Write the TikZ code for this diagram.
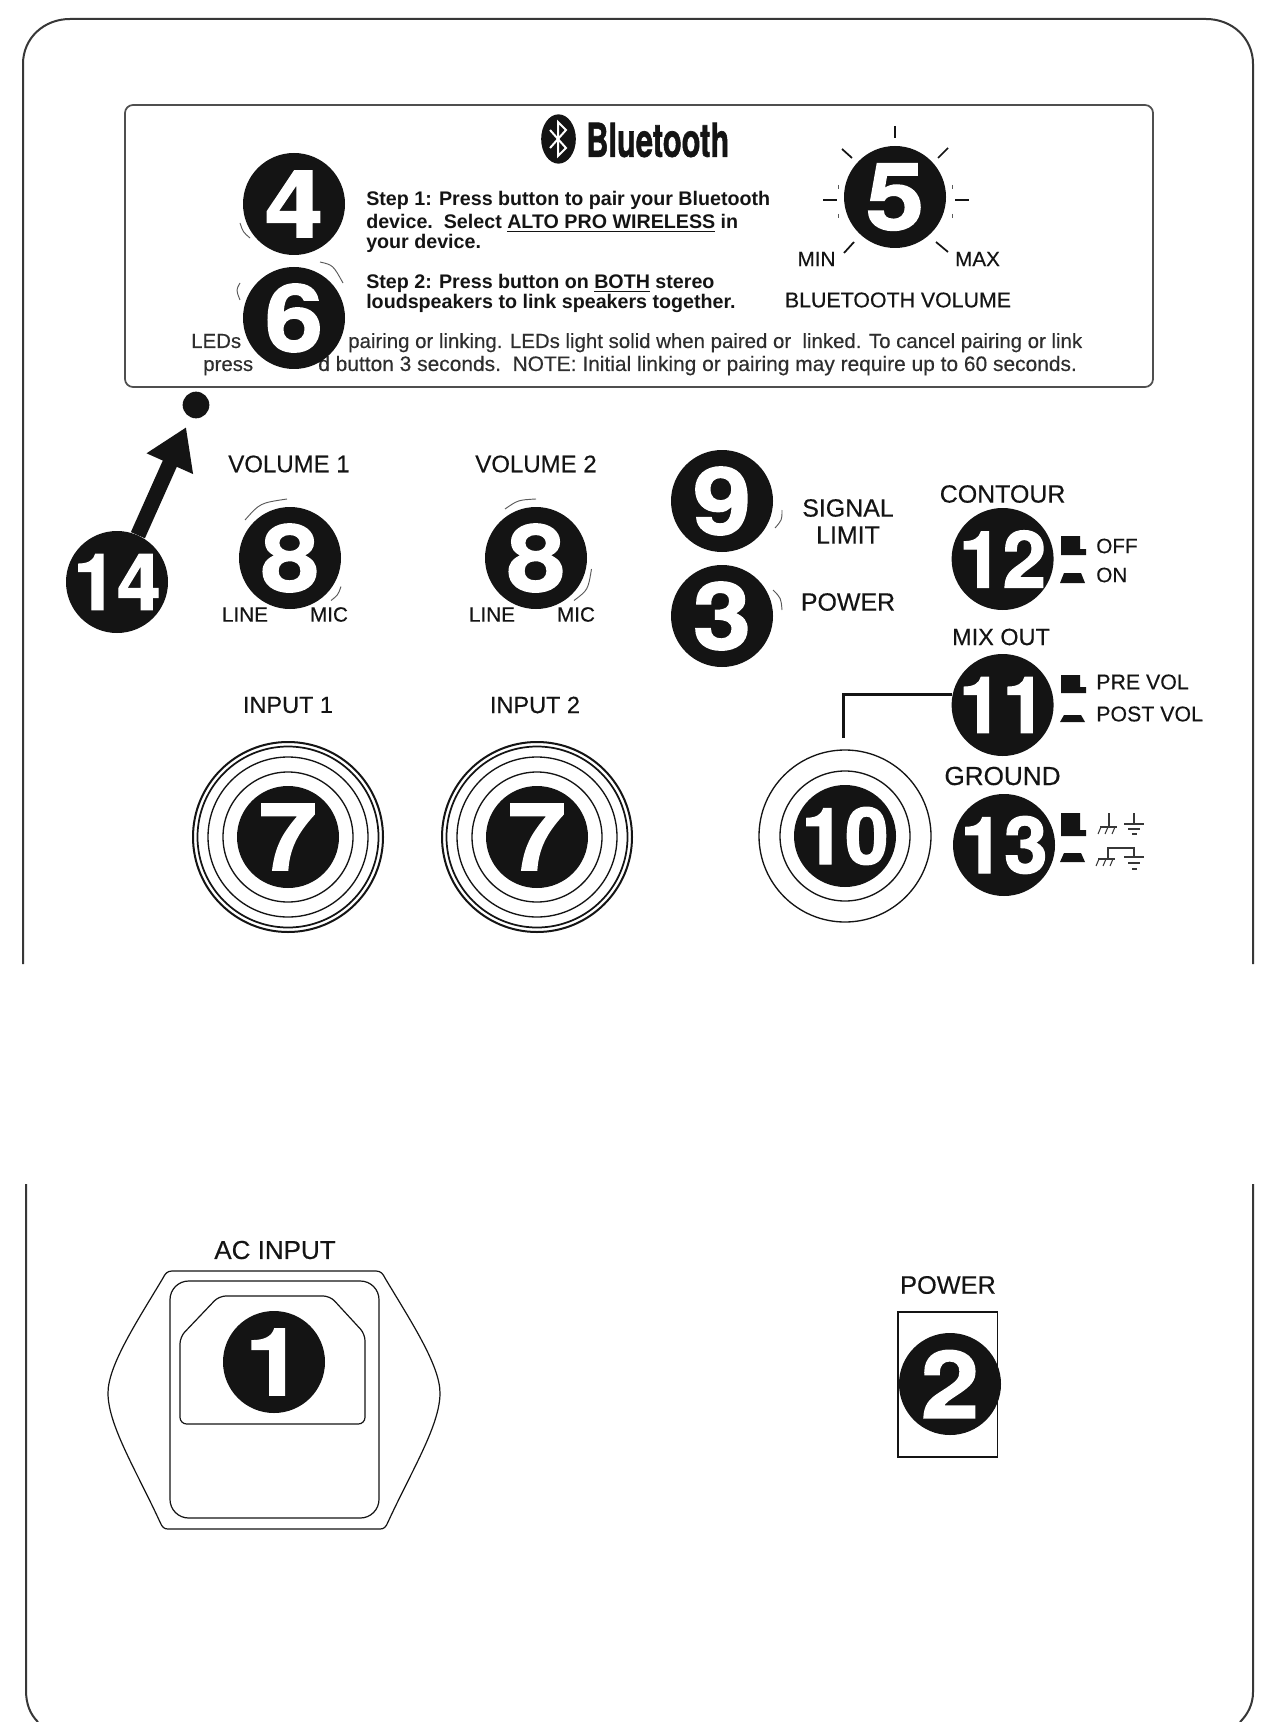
\documentclass[tikz,border=0pt]{standalone}
\usepackage{fontspec}
\usepackage{graphicx}
\setmainfont[UprightFeatures={FakeBold=0.3}]{Liberation Sans}
\newfontfamily\numfont[BoldFeatures={FakeBold=1.5}]{TeX Gyre Heros}
\usetikzlibrary{arrows.meta,shapes.geometric}
\definecolor{ink}{HTML}{141414}
\definecolor{bodyink}{HTML}{2E2E2E}
\newcommand{\wdg}[1]{\makebox[0pt]{\scalebox{1.12}[1]{#1}}}
\tikzset{
  numdot/.style={circle,fill=ink,minimum size=76.5pt,inner sep=0pt,text=white,
    font=\numfont\bfseries\fontsize{70}{70}\selectfont},
  numdottwo/.style={numdot,font=\numfont\bfseries\fontsize{59}{59}\selectfont},
  lab/.style={inner sep=0pt,text=ink,font=\fontsize{#1}{#1}\selectfont},
  bodyline/.style={inner sep=0pt,anchor=base west,text=ink,font=\bfseries\fontsize{14.75}{14.75}\selectfont},
  noteline/.style={inner sep=0pt,anchor=base west,text=bodyink,font=\fontsize{#1}{#1}\selectfont},
  frameline/.style={draw=ink!85,line width=1.5pt},
  thin outline/.style={draw=ink,line width=.9pt},
  ringline/.style={draw=ink,line width=1pt},
  faintarc/.style={draw=ink!70,line width=.7pt},
  knobtick/.style={draw=ink,line width=1.3pt},
  lead/.style={draw=ink,line width=2pt},
  swicon/.style={fill=ink,draw=none},
  gnd/.style={draw=ink!85,line width=.8pt}
}
\newcommand{\uprightsw}[2]{\fill[swicon] (1061,#1) -- (1080,#1) -- (1080,#2-6) -- (1086,#2-6) -- (1086,#2) -- (1061,#2) -- cycle;}
\newcommand{\downsw}[2]{\fill[swicon] (1064,#1) -- (1081,#1) -- (1085,#2) -- (1060,#2) -- cycle;}
\begin{document}
\begin{tikzpicture}[x=.75pt,y=-.75pt]
\useasboundingbox (0,0) rectangle (1266,1722);
\fill[white] (0,0) rectangle (1266,1722);
% outer enclosure
\draw[frameline] (23,964) -- (23,64) .. controls (23,38) and (44,19) .. (70,19) -- (1206,19) .. controls (1232,19) and (1253,38) .. (1253,64) -- (1253,964);
\draw[frameline] (26,1184) -- (26,1690) .. controls (26,1704) and (30,1714) .. (38,1722);
\draw[frameline] (1253,1184) -- (1253,1692) .. controls (1253,1704) and (1248,1714) .. (1240,1722);
% bluetooth panel
\draw[draw=ink!75,line width=1.3pt,rounded corners=6pt] (125,105) rectangle (1153,387);
% bluetooth logo
\node[ellipse,fill=ink,minimum width=26pt,minimum height=37pt,inner sep=0pt] (btlogo) at (558.5,139) {};
\draw[white,line width=1.5pt] (550,130) -- (566,148) -- (558,156) -- (558,122) -- (566,130) -- (550,148);
\node[inner sep=0pt,anchor=west,text=ink] (bttext) at (586,140) {\scalebox{.66}[1]{\numfont\bfseries\fontsize{35}{35}\selectfont Bluetooth}};
% panel text
\node[bodyline] (s1a) at (366,206) {Step 1: Press button to pair your Bluetooth};
\node[bodyline] (s1b) at (366,229) {device.\ \ Select \underline{ALTO PRO WIRELESS} in};
\node[bodyline] (s1c) at (366,249) {your device.};
\node[bodyline] (s2a) at (366,289) {Step 2: Press button on \underline{BOTH} stereo};
\node[bodyline] (s2b) at (366,309) {loudspeakers to link speakers together.};
\node[noteline=15.3] (n1a) at (191,348) {LEDs};
\node[noteline=15.3] (n1b) at (348,348) {pairing or linking. LEDs light solid when paired or\ \ linked. To cancel pairing or link};
\node[noteline=15.3] (n2a) at (203,371) {press};
\node[noteline=15.7] (n2b) at (318,371) {d button 3 seconds.\ \ NOTE: Initial linking or pairing may require up to 60 seconds.};
% bluetooth volume knob ticks
\draw[knobtick] (895,126) -- (895,138);
\draw[knobtick] (842,149) -- (852,158);
\draw[knobtick] (948,148) -- (938,158);
\draw[knobtick] (823,200) -- (837,200);
\draw[knobtick] (955,200) -- (969,200);
\draw[knobtick] (844,253) -- (854,242);
\draw[knobtick] (936,242) -- (948,252);
\draw[faintarc] (838,185) -- (838,189);
\draw[faintarc] (838,214) -- (838,218);
\draw[faintarc] (952,185) -- (952,189);
\draw[faintarc] (952,214) -- (952,218);
\node[lab=15.5] (lmin) at (816.5,259) {MIN};
\node[lab=15.5] (lmax) at (977.5,259) {MAX};
\node[lab=16] (lbtv) at (898,300) {BLUETOOTH VOLUME};
% labels
\node[lab=18] (lv1) at (289,464) {VOLUME 1};
\node[lab=18] (lv2) at (536,464) {VOLUME 2};
\node[lab=15.5] (ll1) at (245,614.5) {LINE};
\node[lab=15.5] (lm1) at (329,614.5) {MIC};
\node[lab=15.5] (ll2) at (492,614.5) {LINE};
\node[lab=15.5] (lm2) at (576,614.5) {MIC};
\node[lab=17.6] (li1) at (288,705) {INPUT 1};
\node[lab=17.6] (li2) at (535,705) {INPUT 2};
\node[lab=18.7] (lsig) at (848,508) {SIGNAL};
\node[lab=18.7] (llim) at (848,535) {LIMIT};
\node[lab=18.7] (lpow) at (848,602) {POWER};
\node[lab=18.7] (lcon) at (1002.6,494) {CONTOUR};
\node[lab=15.5,anchor=west] (loff) at (1096,546) {OFF};
\node[lab=15.5,anchor=west] (lon) at (1096,575) {ON};
\node[lab=17.6] (lmix) at (1001,637) {MIX OUT};
\node[lab=16,anchor=west] (lpre) at (1096,682) {PRE VOL};
\node[lab=16,anchor=west] (lpost) at (1096,714) {POST VOL};
\node[lab=19.6] (lgnd) at (1002.5,776) {GROUND};
\node[lab=19.5] (lac) at (275,1250) {AC INPUT};
\node[lab=19] (lpw2) at (948,1285) {POWER};
% switch icons
\uprightsw{536}{555}\downsw{573}{583}
\uprightsw{675}{693}\downsw{715}{722}
\uprightsw{813}{836}\downsw{853}{862}
% ground symbols
\draw[gnd] (1109,813) -- (1109,827);
\draw[gnd] (1100,827) -- (1117,827);
\draw[gnd] (1101,827) -- (1098,834) (1108,827) -- (1105,834) (1115,827) -- (1112,834);
\draw[gnd] (1134,813) -- (1134,824) (1124,824) -- (1144,824) (1128,829) -- (1140,829) (1132,834) -- (1137,834);
\draw[gnd] (1098,859) -- (1115,859);
\draw[gnd] (1099,859) -- (1096,866) (1106,859) -- (1103,866) (1113,859) -- (1110,866);
\draw[gnd] (1108,859) -- (1108,848) -- (1134,848) -- (1134,857);
\draw[gnd,line width=1.4pt] (1124,857) -- (1144,857) (1128,863) -- (1140,863) (1132,869) -- (1137,869);
% number dots
\node[numdot] (n4) at (294,204) {\wdg{4}};
\node[numdot] (n6) at (294,318) {\wdg{6}};
\node[numdot] (n5) at (895,197) {\wdg{5}};
\node[numdot] (n8a) at (290,558) {\wdg{8}};
\node[numdot] (n8b) at (536,558) {\wdg{8}};
\node[numdot] (n9) at (722,501) {\wdg{9}};
\node[numdot] (n3) at (722,616) {\wdg{3}};
\node[numdottwo] (n14) at (117,582) {\makebox[0pt]{14}};
\node[numdottwo] (n12) at (1002.6,559) {\makebox[0pt]{12}};
\node[numdottwo] (n11) at (1002.6,705) {\makebox[0pt]{11}};
\node[numdottwo] (n13) at (1004,845) {\makebox[0pt]{13}};
\node[numdottwo] (n10) at (845,836) {\makebox[0pt]{10}};
\node[numdot] (n7a) at (288,837) {\wdg{7}};
\node[numdot] (n7b) at (537,837) {\wdg{7}};
% indicator arcs
\draw[faintarc] (240,223) .. controls (243,232) .. (250,238);
\draw[faintarc] (240,283) .. controls (236,290) .. (240,300);
\draw[faintarc] (320,262) .. controls (333,265) .. (343,283);
\draw[faintarc] (245,520) .. controls (260,503) .. (287,499);
\draw[faintarc] (331,600.5) .. controls (338,595) .. (341,586.5);
\draw[faintarc] (505,509) .. controls (518,500) .. (536,499);
\draw[faintarc] (591.5,569) .. controls (588,590) .. (574,600.5);
\draw[faintarc] (782,510) .. controls (782,520) .. (775,528);
\draw[faintarc] (773,590) .. controls (781,598) .. (782,610);
% jacks
\foreach \c in {n7a,n7b}{
  \draw[ringline] (\c.center) circle[radius=65];
  \draw[ringline] (\c.center) circle[radius=80];
  \draw[ringline,line width=1.3pt] (\c.center) circle[radius=90.5];
  \draw[ringline,line width=1.5pt] (\c.center) circle[radius=95];
}
\draw[ringline] (n10.center) circle[radius=65];
\draw[ringline] (n10.center) circle[radius=86];
% led + arrow
\node[circle,fill=ink,minimum size=20pt,inner sep=0pt] (led) at (196,405) {};
\draw[draw=ink,line width=11.5pt,-{Triangle[length=30pt,width=36pt]},shorten >=8pt] (n14) -- (led);
% connector 10-11
\coordinate (j10) at (843.5,738);
\draw[lead] (n11.168) -| (j10);
% AC inlet
\draw[thin outline] (172,1271) -- (376,1271) .. controls (381,1271) and (383,1274) .. (385,1278) .. controls (410,1320) and (440,1365) .. (440,1393) .. controls (440,1425) and (412,1470) .. (388,1522) .. controls (386,1527) and (384,1529) .. (380,1529) -- (168,1529) .. controls (164,1529) and (162,1527) .. (160,1522) .. controls (136,1470) and (108,1425) .. (108,1393) .. controls (108,1365) and (138,1320) .. (163,1278) .. controls (165,1274) and (167,1271) .. (172,1271) -- cycle;
\draw[thin outline,rounded corners=14pt] (170,1281) rectangle (379,1518);
\draw[thin outline,rounded corners=5pt] (219,1296) -- (330,1296) -- (365,1334) -- (365,1424) -- (180,1424) -- (180,1337) -- cycle;
\node[numdot] (n1) at (274,1362) {\wdg{1}};
% power switch
\draw[thin outline] (898,1312) rectangle (997.5,1457);
\node[numdot] (n2) at (950,1384) {\wdg{2}};
\end{tikzpicture}
\end{document}
